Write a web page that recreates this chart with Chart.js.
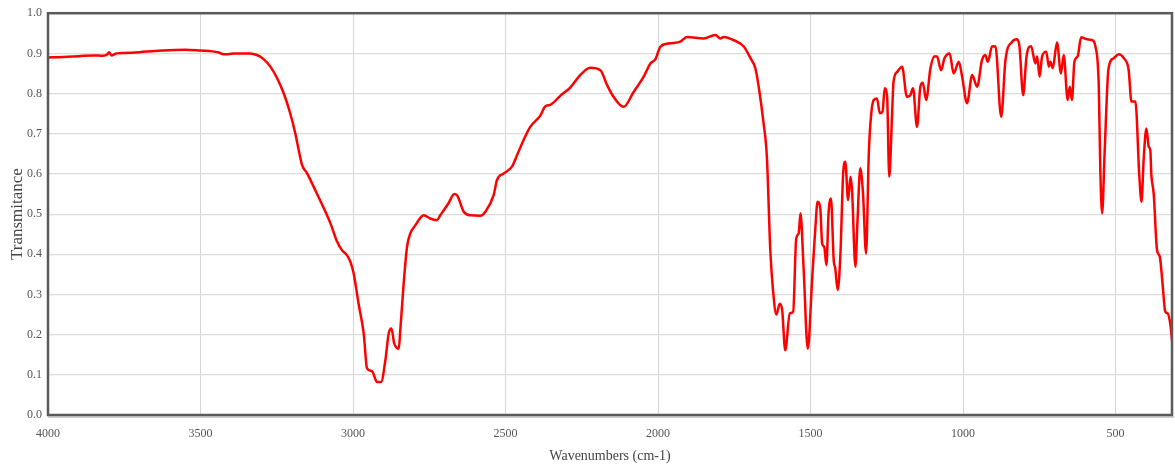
<!DOCTYPE html>
<html>
<head>
<meta charset="utf-8">
<script src="https://cdn.jsdelivr.net/npm/chart.js@4/dist/chart.umd.min.js"></script>
<style>
  html, body { margin: 0; padding: 0; background: #ffffff; }
  #wrap { position: relative; width: 1175px; height: 471px; }
</style>
</head>
<body>
<div id="wrap"><canvas id="c" width="1175" height="471"></canvas></div>
<script>
const wavenumbers = [
  4000, 3950, 3900, 3850, 3820, 3806, 3800, 3792, 3775, 3750, 3700, 3650, 3600, 3550, 3500,
  3460, 3440, 3425, 3410, 3390, 3350, 3337, 3315, 3295, 3271, 3250, 3227, 3206, 3189, 3178,
  3167, 3151, 3124, 3096, 3074, 3052, 3036, 3020, 3008, 2998, 2982, 2965, 2954, 2938, 2921,
  2908, 2894, 2883, 2874, 2865, 2850, 2845, 2834, 2823, 2812, 2796, 2768, 2747, 2725, 2714,
  2687, 2668, 2659, 2637, 2615, 2583, 2566, 2539, 2528, 2506, 2479, 2462, 2441, 2419, 2386,
  2370, 2353, 2320, 2288, 2255, 2222, 2189, 2167, 2146, 2113, 2080, 2047, 2025, 2009, 1992,
  1960, 1927, 1905, 1850, 1812, 1796, 1785, 1752, 1719, 1697, 1681, 1670, 1654, 1643, 1632,
  1623, 1612, 1601, 1593, 1583, 1568, 1557, 1547, 1539, 1533, 1523, 1509, 1495, 1484, 1477,
  1468, 1462, 1455, 1448, 1441, 1433, 1424, 1419, 1411, 1402, 1393, 1386, 1377, 1369, 1364,
  1353, 1346, 1337, 1328, 1318, 1309, 1302, 1293, 1282, 1273, 1264, 1257, 1249, 1242, 1233,
  1228, 1216, 1200, 1184, 1173, 1164, 1151, 1140, 1132, 1121, 1107, 1093, 1085, 1072, 1061,
  1044, 1031, 1014, 1003, 987, 970, 954, 938, 927, 919, 905, 894, 875, 861, 839,
  823, 815, 803, 792, 777, 763, 757, 749, 741, 727, 719, 714, 706, 692, 679,
  670, 657, 650, 643, 635, 624, 613, 593, 577, 566, 555, 550, 544, 536, 523,
  506, 490, 473, 457, 448, 435, 422, 415, 408, 399, 391, 386, 383, 375, 364,
  355, 346, 337, 329, 320, 315
];
const transmittance = [
  0.890, 0.891, 0.893, 0.895, 0.894, 0.897, 0.903, 0.895, 0.900, 0.901, 0.903, 0.906, 0.908, 0.909, 0.907,
  0.905, 0.902, 0.898, 0.898, 0.900, 0.900, 0.900, 0.896, 0.887, 0.867, 0.840, 0.800, 0.751, 0.700, 0.659,
  0.622, 0.602, 0.560, 0.515, 0.477, 0.431, 0.410, 0.398, 0.380, 0.353, 0.278, 0.203, 0.116, 0.109, 0.082,
  0.082, 0.136, 0.203, 0.215, 0.178, 0.165, 0.211, 0.327, 0.418, 0.452, 0.472, 0.497, 0.489, 0.485, 0.497,
  0.527, 0.550, 0.547, 0.506, 0.497, 0.496, 0.506, 0.547, 0.585, 0.601, 0.618, 0.647, 0.684, 0.717, 0.745,
  0.768, 0.772, 0.795, 0.815, 0.846, 0.864, 0.858, 0.821, 0.792, 0.767, 0.804, 0.842, 0.875, 0.885, 0.917,
  0.925, 0.929, 0.941, 0.937, 0.946, 0.937, 0.941, 0.933, 0.917, 0.888, 0.863, 0.817, 0.726, 0.640, 0.410,
  0.310, 0.250, 0.277, 0.261, 0.161, 0.253, 0.257, 0.439, 0.452, 0.502, 0.369, 0.165, 0.335, 0.468, 0.531,
  0.514, 0.427, 0.418, 0.373, 0.502, 0.539, 0.385, 0.365, 0.311, 0.402, 0.601, 0.630, 0.535, 0.593, 0.560,
  0.369, 0.485, 0.614, 0.551, 0.402, 0.651, 0.742, 0.784, 0.788, 0.751, 0.755, 0.813, 0.792, 0.593, 0.742,
  0.829, 0.854, 0.867, 0.792, 0.796, 0.813, 0.717, 0.817, 0.827, 0.784, 0.863, 0.893, 0.892, 0.858, 0.888,
  0.900, 0.850, 0.879, 0.842, 0.776, 0.846, 0.817, 0.883, 0.896, 0.879, 0.917, 0.918, 0.742, 0.883, 0.929,
  0.935, 0.917, 0.796, 0.892, 0.918, 0.875, 0.892, 0.842, 0.892, 0.904, 0.867, 0.879, 0.863, 0.927, 0.850,
  0.896, 0.784, 0.817, 0.784, 0.879, 0.893, 0.940, 0.935, 0.933, 0.917, 0.817, 0.609, 0.502, 0.651, 0.863,
  0.888, 0.898, 0.888, 0.858, 0.780, 0.780, 0.593, 0.531, 0.634, 0.713, 0.667, 0.659, 0.601, 0.551, 0.410,
  0.394, 0.327, 0.257, 0.253, 0.223, 0.186
];
const xTickLabels = [4000, 3500, 3000, 2500, 2000, 1500, 1000, 500];
const yTickLabels = [0.0, 0.1, 0.2, 0.3, 0.4, 0.5, 0.6, 0.7, 0.8, 0.9, 1.0];
const xTitle = 'Wavenumbers (cm-1)';
const yTitle = 'Transmitance';

const points = wavenumbers.map((w, i) => ({ x: w, y: transmittance[i] }));
const serif = "'Liberation Serif', 'Times New Roman', serif";

const framePlugin = {
  id: 'frame',
  afterDraw(chart) {
    const a = chart.chartArea, ctx = chart.ctx;
    ctx.save();
    ctx.strokeStyle = '#5a5a5a';
    ctx.lineWidth = 2.5;
    ctx.strokeRect(a.left, a.top, a.right - a.left, a.bottom - a.top);
    ctx.beginPath();
    ctx.lineWidth = 1;
    ctx.strokeStyle = '#9a9a9a';
    ctx.moveTo(a.left, a.bottom + 2);
    ctx.lineTo(a.right + 2, a.bottom + 2);
    ctx.stroke();
    ctx.restore();
  }
};

new Chart(document.getElementById('c'), {
  type: 'line',
  data: {
    datasets: [{
      data: points,
      borderColor: '#ff0000',
      borderWidth: 2.5,
      pointRadius: 0,
      fill: false,
      cubicInterpolationMode: 'monotone'
    }]
  },
  options: {
    responsive: false,
    animation: false,
    events: [],
    layout: { padding: { top: 13, right: 3, left: 0, bottom: 0 } },
    plugins: { legend: { display: false }, tooltip: { enabled: false } },
    scales: {
      x: {
        type: 'linear',
        reverse: true,
        min: 315,
        max: 4000,
        afterBuildTicks: s => { s.ticks = xTickLabels.map(v => ({ value: v })); },
        afterFit: s => { s.height = 56; },
        grid: { color: '#d4d4d4', lineWidth: 1, drawTicks: false },
        border: { display: false },
        ticks: {
          padding: 12,
          color: '#555',
          font: { family: serif, size: 12 },
          maxRotation: 0,
          callback: v => String(v)
        },
        title: {
          display: true,
          text: xTitle,
          color: '#444',
          font: { family: serif, size: 14 },
          padding: { top: 0, bottom: 6 }
        }
      },
      y: {
        min: 0,
        max: 1,
        afterBuildTicks: s => { s.ticks = yTickLabels.map(v => ({ value: v })); },
        afterFit: s => { s.width = 48; },
        grid: { color: '#dcdcdc', lineWidth: 1.2, drawTicks: false },
        border: { display: false },
        ticks: {
          padding: 6,
          color: '#555',
          font: { family: serif, size: 12 },
          callback: v => Number(v).toFixed(1)
        },
        title: {
          display: true,
          text: yTitle,
          color: '#444',
          font: { family: serif, size: 17 },
          padding: { top: 7, bottom: 0 }
        }
      }
    }
  },
  plugins: [framePlugin]
});
</script>
</body>
</html>
